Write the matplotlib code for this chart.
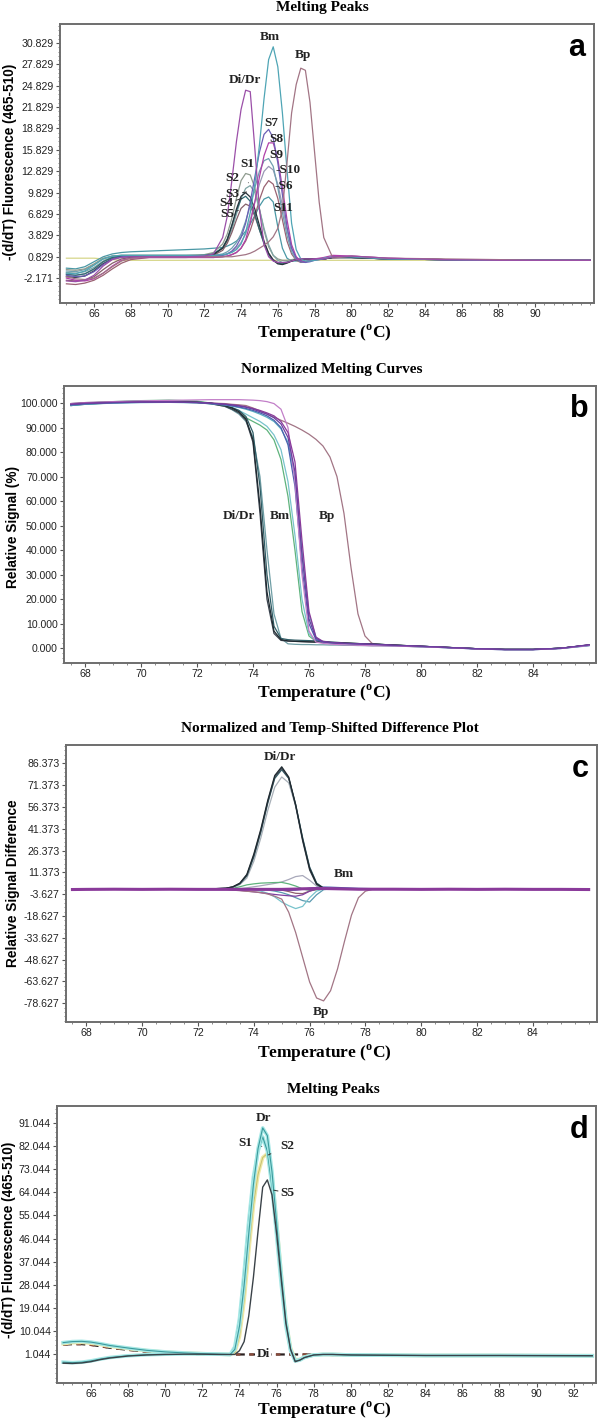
import matplotlib
matplotlib.use("Agg")
import matplotlib.pyplot as plt
from matplotlib.ticker import FixedLocator, AutoMinorLocator

SERIF = ['Liberation Serif', 'DejaVu Serif']
SANS = ['Liberation Sans', 'DejaVu Sans']

# ---------------- panel a : melting peaks ----------------
temp_a = [64.5, 65.0, 65.5, 66.0, 66.5, 67.0, 67.5, 68.0, 69.0, 70.0, 71.0, 72.0,
          72.5, 73.0, 73.25, 73.5, 73.75, 74.0, 74.25, 74.5, 74.75, 75.0, 75.25, 75.5,
          75.75, 76.0, 76.25, 76.5, 76.75, 77.0, 77.25, 77.5, 77.75, 78.0, 78.25, 78.5,
          79.0, 80.0, 82.0, 85.0, 88.0, 90.0, 93.0]

a_yellow = [0.6, 0.6, 0.6, 0.6, 0.5, 0.4, 0.3, 0.3, 0.3, 0.3, 0.3, 0.3,
            0.3, 0.3, 0.3, 0.3, 0.3, 0.3, 0.3, 0.3, 0.3, 0.3, 0.3, 0.3,
            0.3, 0.3, 0.3, 0.3, 0.3, 0.3, 0.3, 0.3, 0.3, 0.3, 0.3, 0.3,
            0.3, 0.3, 0.3, 0.3, 0.3, 0.3, 0.3]
a_s11 = [-0.8, -0.9, -0.6, 0.1, 0.8, 1.2, 1.4, 1.5, 1.6, 1.7, 1.8, 1.9,
         2.0, 2.1, 2.3, 2.6, 3.0, 3.6, 4.4, 5.4, 6.6, 7.9, 8.9, 9.2,
         8.5, 5.0, 2.0, 0.6, 0.2, 0.2, 0.3, 0.4, 0.5, 0.5, 0.5, 0.5,
         0.7, 0.7, 0.5, 0.4, 0.3, 0.3, 0.3]
a_s6 = [-3.0, -3.1, -2.9, -2.5, -1.8, -0.9, -0.1, 0.4, 0.7, 0.7, 0.7, 0.7,
        0.7, 0.8, 0.9, 1.1, 1.4, 2.0, 3.0, 4.5, 6.5, 8.8, 10.6, 11.5,
        11.0, 9.0, 6.0, 3.0, 1.2, 0.3, 0.0, 0.1, 0.3, 0.4, 0.5, 0.5,
        0.7, 0.7, 0.5, 0.4, 0.3, 0.3, 0.3]
a_s10 = [-1.6, -1.8, -1.6, -1.0, -0.1, 0.6, 0.8, 0.9, 0.9, 0.9, 0.9, 0.9,
         0.9, 1.0, 1.2, 1.5, 2.0, 2.8, 4.0, 6.0, 8.5, 11.0, 12.8, 13.5,
         13.0, 11.0, 8.0, 4.5, 2.0, 0.7, 0.2, 0.1, 0.3, 0.4, 0.5, 0.5,
         0.7, 0.7, 0.5, 0.4, 0.3, 0.3, 0.3]
a_s9 = [-1.2, -1.3, -1.0, -0.3, 0.5, 0.9, 1.0, 1.0, 1.0, 1.0, 1.0, 1.0,
        1.0, 1.2, 1.5, 2.0, 2.8, 4.0, 5.8, 8.0, 10.5, 12.8, 14.3, 14.6,
        13.5, 10.5, 7.0, 3.8, 1.5, 0.4, 0.1, 0.1, 0.3, 0.4, 0.5, 0.5,
        0.7, 0.7, 0.5, 0.4, 0.3, 0.3, 0.3]
a_s8 = [-2.2, -2.5, -2.6, -2.3, -1.5, -0.5, 0.3, 0.6, 0.7, 0.7, 0.7, 0.7,
        0.7, 0.8, 0.9, 1.1, 1.4, 2.0, 3.2, 5.5, 8.5, 12.0, 15.0, 16.8,
        16.8, 14.5, 10.5, 6.0, 2.5, 0.8, 0.2, 0.1, 0.3, 0.5, 0.6, 0.7,
        1.0, 0.9, 0.6, 0.4, 0.3, 0.3, 0.3]
a_s7 = [-1.8, -2.0, -1.9, -1.3, -0.3, 0.5, 0.8, 0.9, 0.9, 0.9, 0.9, 0.9,
        0.9, 1.0, 1.2, 1.6, 2.3, 3.5, 5.5, 8.5, 12.0, 15.5, 18.0, 18.7,
        17.5, 14.0, 9.5, 5.0, 2.0, 0.6, 0.1, 0.0, 0.1, 0.3, 0.4, 0.5,
        0.8, 0.8, 0.5, 0.4, 0.3, 0.3, 0.3]
a_s1 = [-1.0, -1.1, -0.9, -0.2, 0.6, 0.9, 1.0, 1.0, 1.0, 1.0, 1.0, 1.1,
        1.4, 2.6, 4.0, 6.2, 9.0, 11.5, 12.5, 12.3, 10.5, 7.5, 4.5, 2.2,
        1.0, 0.5, 0.3, 0.3, 0.4, 0.5, 0.5, 0.5, 0.5, 0.5, 0.5, 0.5,
        0.7, 0.7, 0.5, 0.4, 0.3, 0.3, 0.3]
a_s2 = [-1.4, -1.5, -1.3, -0.7, 0.2, 0.8, 0.9, 0.9, 0.9, 0.9, 0.9, 1.0,
        1.2, 2.0, 3.0, 4.6, 6.8, 9.0, 10.4, 10.8, 9.8, 7.5, 4.8, 2.5,
        1.0, 0.3, 0.0, 0.1, 0.3, 0.4, 0.5, 0.5, 0.5, 0.5, 0.5, 0.5,
        0.7, 0.7, 0.5, 0.4, 0.3, 0.3, 0.3]
a_s3 = [-2.0, -2.1, -1.9, -1.2, -0.2, 0.5, 0.8, 0.8, 0.8, 0.8, 0.8, 0.9,
        1.1, 2.0, 3.2, 5.2, 7.5, 9.3, 9.8, 9.2, 7.5, 5.2, 3.0, 1.3,
        0.3, -0.2, -0.3, -0.1, 0.2, 0.4, 0.4, 0.5, 0.5, 0.5, 0.5, 0.5,
        0.7, 0.7, 0.5, 0.4, 0.3, 0.3, 0.3]
a_s4 = [-1.7, -1.8, -1.6, -0.9, 0.1, 0.7, 0.9, 0.9, 0.9, 0.9, 0.9, 1.0,
        1.2, 2.1, 3.3, 5.2, 7.3, 8.9, 9.3, 8.6, 6.8, 4.6, 2.6, 1.1,
        0.3, -0.1, -0.2, 0.0, 0.2, 0.4, 0.4, 0.5, 0.5, 0.5, 0.5, 0.5,
        0.7, 0.7, 0.5, 0.4, 0.3, 0.3, 0.3]
a_s5 = [-2.5, -2.6, -2.5, -2.0, -1.0, -0.1, 0.5, 0.7, 0.7, 0.7, 0.7, 0.8,
        1.0, 1.7, 2.7, 4.2, 6.0, 7.6, 8.2, 7.9, 6.5, 4.6, 2.8, 1.3,
        0.4, 0.0, -0.1, 0.0, 0.2, 0.4, 0.4, 0.5, 0.5, 0.5, 0.5, 0.5,
        0.7, 0.7, 0.5, 0.4, 0.3, 0.3, 0.3]
a_bm = [-1.5, -1.6, -1.2, -0.4, 0.5, 0.9, 1.0, 1.0, 1.0, 1.0, 1.0, 1.0,
        1.0, 1.1, 1.2, 1.4, 1.8, 2.6, 4.2, 7.0, 11.0, 16.5, 23.0, 28.5,
        30.3, 27.5, 21.0, 13.0, 5.5, 1.8, 0.5, 0.2, 0.2, 0.3, 0.4, 0.6,
        0.8, 0.8, 0.5, 0.4, 0.3, 0.3, 0.3]
a_bp = [-2.0, -2.3, -2.4, -2.2, -1.5, -0.6, 0.2, 0.6, 0.8, 0.8, 0.8, 0.8,
        0.8, 0.8, 0.8, 0.8, 0.9, 1.0, 1.1, 1.3, 1.6, 2.0, 2.4, 2.9,
        3.6, 4.8, 7.5, 14.0, 21.0, 25.0, 27.3, 27.0, 22.5, 15.5, 8.5, 3.5,
        0.6, 0.9, 0.6, 0.5, 0.4, 0.3, 0.3]
a_didr = [-2.6, -2.7, -2.5, -1.8, -0.5, 0.4, 0.7, 0.8, 0.8, 0.8, 0.8, 0.9,
          1.2, 3.5, 6.5, 11.5, 17.0, 21.5, 24.2, 24.0, 16.0, 7.5, 2.5, 0.8,
          0.2, 0.0, 0.0, 0.0, 0.2, 0.4, 0.5, 0.5, 0.5, 0.5, 0.5, 0.5,
          0.8, 0.9, 0.6, 0.4, 0.3, 0.3, 0.3]

curves_a = [(a_yellow, '#d6d68a'), (a_s11, '#4a98a5'), (a_s6, '#9a6272'),
            (a_s10, '#9a98b5'), (a_s9, '#6f9fb0'), (a_s1, '#8f9b8f'),
            (a_s2, '#7fa5a5'), (a_s5, '#85606a'), (a_s4, '#2f6a72'),
            (a_s3, '#28343c'), (a_s8, '#b040a8'), (a_s7, '#6b5fb5'),
            (a_bm, '#4fa5b5'), (a_bp, '#a27585'), (a_didr, '#9b4fa8')]
labels_a = [('Bm', 75.58, 31.7), ('Bp', 77.39, 29.1), ('Di/Dr', 74.22, 25.7),
            ('S7', 75.62, 19.6), ('S8', 75.94, 17.4), ('S9', 75.94, 15.1),
            ('-S10', 76.55, 13.0), ('-S6', 76.3, 10.7), ('S11', 76.3, 7.6),
            ('S1', 74.36, 13.9)]
leaders_a = [('S2', 73.5, 11.8, 74.4, 11.2), ('S3', 73.55, 9.6, 74.3, 9.9),
             ('S4', 73.2, 8.3, 74.05, 9.0), ('S5', 73.25, 6.8, 73.85, 7.3)]
yt_a = [-2.171, 0.829, 3.829, 6.829, 9.829, 12.829, 15.829, 18.829, 21.829, 24.829, 27.829, 30.829]
xt_a = [66, 68, 70, 72, 74, 76, 78, 80, 82, 84, 86, 88, 90]

# ---------------- panels b, c : normalized curves / difference ----------------
temp_b = [67.5, 68.0, 69.0, 70.0, 71.0, 72.0, 72.5, 73.0,
          73.25, 73.5, 73.75, 74.0, 74.25, 74.5, 74.75, 75.0, 75.25, 75.5, 75.75,
          76.0, 76.25, 76.5, 76.75, 77.0, 77.25, 77.5, 77.75, 78.0, 78.25, 78.5,
          79.0, 80.0, 81.0, 82.0, 83.0, 84.0, 85.0, 86.0]

b_di1 = [99.3, 99.8, 100.3, 100.6, 100.6, 100.4, 100.0, 99.0,
         98.0, 96.5, 93.5, 85.0, 58.0, 23.0, 7.0, 3.5, 3.0, 2.8, 2.7,
         2.6, 2.5, 2.4, 2.3, 2.2, 2.1, 2.0, 1.9, 1.8, 1.7, 1.6,
         1.3, 0.8, 0.3, -0.2, -0.5, -0.5, 0.0, 1.3]
b_di2 = [99.0, 99.5, 100.1, 100.4, 100.5, 100.3, 99.9, 99.0,
         98.2, 97.0, 94.5, 88.0, 66.0, 30.0, 9.0, 4.0, 3.5, 3.3, 3.2,
         3.1, 3.0, 2.8, 2.6, 2.4, 2.2, 2.0, 1.9, 1.8, 1.7, 1.6,
         1.3, 0.8, 0.3, -0.2, -0.5, -0.5, 0.0, 1.3]
b_di3 = [99.6, 100.0, 100.5, 100.8, 100.7, 100.4, 99.8, 98.6,
         97.3, 95.5, 92.5, 86.0, 70.0, 40.0, 14.0, 4.0, 1.8, 1.6, 1.5,
         1.5, 1.4, 1.4, 1.3, 1.3, 1.2, 1.2, 1.1, 1.1, 1.0, 1.0,
         0.9, 0.6, 0.2, -0.2, -0.5, -0.5, 0.0, 1.2]
b_di4 = [99.8, 100.2, 100.4, 100.5, 100.5, 100.2, 99.7, 98.7,
         97.5, 96.0, 93.0, 84.0, 55.0, 20.0, 6.0, 3.2, 2.9, 2.8, 2.7,
         2.6, 2.5, 2.4, 2.3, 2.2, 2.1, 2.0, 1.9, 1.8, 1.7, 1.6,
         1.3, 0.8, 0.3, -0.2, -0.5, -0.5, 0.0, 1.3]
b_green = [99.5, 100.0, 100.6, 101.0, 101.2, 100.8, 100.0, 98.8,
           97.5, 96.0, 94.0, 92.5, 91.0, 89.0, 85.0, 77.0, 62.0, 40.0, 15.0,
           5.0, 2.8, 2.4, 2.2, 2.0, 1.9, 1.8, 1.7, 1.6, 1.5, 1.4,
           1.2, 0.8, 0.3, -0.2, -0.5, -0.5, 0.0, 1.2]
b_teal = [99.0, 99.6, 100.2, 100.6, 100.8, 100.5, 99.8, 99.0,
          98.0, 97.0, 95.5, 94.0, 92.5, 90.5, 87.0, 81.0, 68.0, 46.0, 20.0,
          6.0, 3.0, 2.5, 2.3, 2.1, 2.0, 1.9, 1.8, 1.7, 1.6, 1.5,
          1.2, 0.8, 0.3, -0.2, -0.5, -0.5, 0.0, 1.2]
b_bm1 = [99.4, 99.8, 100.2, 100.4, 100.4, 100.2, 99.9, 99.5,
         99.2, 98.8, 98.3, 97.5, 96.5, 95.5, 94.0, 91.5, 86.0, 72.0, 38.0,
         12.0, 4.0, 2.6, 2.3, 2.1, 2.0, 1.9, 1.8, 1.7, 1.6, 1.5,
         1.2, 0.8, 0.3, -0.2, -0.5, -0.5, 0.0, 1.4]
b_bm2 = [99.6, 100.0, 100.3, 100.5, 100.5, 100.3, 100.0, 99.6,
         99.3, 99.0, 98.5, 97.8, 97.0, 96.0, 94.8, 92.5, 88.0, 76.0, 44.0,
         15.0, 4.5, 2.8, 2.4, 2.2, 2.0, 1.9, 1.8, 1.7, 1.6, 1.5,
         1.2, 0.8, 0.3, -0.2, -0.5, -0.5, 0.0, 1.4]
b_bm3 = [99.2, 99.7, 100.1, 100.3, 100.4, 100.2, 99.8, 99.3,
         98.9, 98.4, 97.8, 97.0, 96.0, 94.8, 93.0, 90.0, 83.0, 66.0, 33.0,
         10.0, 3.5, 2.5, 2.2, 2.0, 1.9, 1.8, 1.7, 1.6, 1.5, 1.4,
         1.1, 0.7, 0.2, -0.3, -0.6, -0.6, -0.1, 1.2]
b_bm4 = [99.0, 99.5, 100.0, 100.2, 100.3, 100.1, 99.7, 99.2,
         98.7, 98.2, 97.5, 96.6, 95.5, 94.2, 92.5, 89.5, 84.0, 70.0, 40.0,
         14.0, 4.5, 2.4, 2.0, 1.8, 1.7, 1.6, 1.5, 1.4, 1.3, 1.2,
         1.0, 0.6, 0.2, -0.3, -0.6, -0.6, -0.1, 1.0]
b_pink = [99.8, 100.2, 100.6, 100.9, 101.1, 101.3, 101.4, 101.4,
          101.4, 101.4, 101.3, 101.2, 101.0, 100.6, 99.8, 97.5, 90.0, 68.0, 30.0,
          7.0, 2.5, 2.0, 1.7, 1.5, 1.4, 1.3, 1.2, 1.1, 1.0, 1.0,
          0.9, 0.6, 0.2, -0.3, -0.6, -0.6, -0.1, 1.1]
b_bp = [99.5, 100.0, 100.3, 100.5, 100.5, 100.3, 100.0, 99.8,
        99.5, 99.3, 99.0, 98.0, 96.8, 95.5, 94.3, 93.0, 91.8, 90.5, 89.0,
        87.3, 85.2, 82.5, 78.0, 70.0, 55.0, 33.0, 14.0, 5.0, 2.0, 1.4,
        1.0, 0.6, 0.3, -0.2, -0.5, -0.5, 0.0, 1.2]

curves_b = [(b_bp, '#a27585'), (b_green, '#5fb37c'), (b_teal, '#78c3cc'),
            (b_di3, '#6f9ea5'), (b_di2, '#2f5d66'), (b_di4, '#3c4450'),
            (b_di1, '#1f2a30'), (b_bm4, '#5aafc0'), (b_bm3, '#4a5fae'),
            (b_pink, '#c27fc8'), (b_bm2, '#8a3a9a'), (b_bm1, '#6a3fa0')]
labels_b = [('Di/Dr', 73.5, 54.0), ('Bm', 74.95, 54.0), ('Bp', 76.65, 54.0)]
yt_b = [0, 10, 20, 30, 40, 50, 60, 70, 80, 90, 100]

c_di1 = [0.0, 0.0, 0.0, 0.0, 0.0, 0.0, 0.1, 0.5,
         1.5, 4.0, 10.0, 24.0, 41.0, 61.0, 78.0, 84.0, 77.0, 58.0, 34.0,
         14.0, 3.5, 0.5, 0.0, 0.0, 0.0, 0.0, 0.0, 0.0, 0.0, 0.0,
         0.0, 0.0, 0.0, 0.0, 0.0, 0.0, 0.0, 0.0]
c_di2 = [0.0, 0.0, 0.0, 0.0, 0.0, 0.0, 0.1, 0.4,
         1.3, 3.5, 9.0, 22.0, 39.0, 59.0, 76.0, 82.0, 76.0, 58.0, 35.0,
         15.0, 4.0, 0.6, 0.0, 0.0, 0.0, 0.0, 0.0, 0.0, 0.0, 0.0,
         0.0, 0.0, 0.0, 0.0, 0.0, 0.0, 0.0, 0.0]
c_di3 = [0.0, 0.0, 0.0, 0.0, 0.0, 0.0, 0.1, 0.3,
         1.0, 3.0, 7.5, 19.0, 35.0, 54.0, 70.0, 77.0, 73.0, 57.0, 35.0,
         15.0, 4.0, 0.6, 0.0, 0.0, 0.0, 0.0, 0.0, 0.0, 0.0, 0.0,
         0.0, 0.0, 0.0, 0.0, 0.0, 0.0, 0.0, 0.0]
c_di4 = [0.0, 0.0, 0.0, 0.0, 0.0, 0.0, 0.1, 0.5,
         1.4, 3.8, 9.5, 23.0, 40.0, 60.0, 77.0, 83.0, 76.5, 57.0, 33.0,
         13.0, 3.0, 0.4, 0.0, 0.0, 0.0, 0.0, 0.0, 0.0, 0.0, 0.0,
         0.0, 0.0, 0.0, 0.0, 0.0, 0.0, 0.0, 0.0]
c_gray = [0.0, 0.0, 0.0, 0.0, 0.0, 0.0, 0.0, 0.0,
          0.0, 0.3, 0.8, 1.5, 2.2, 3.0, 3.8, 4.8, 6.5, 8.5, 9.2,
          6.0, 2.0, 0.3, 0.0, 0.0, 0.0, 0.0, 0.0, 0.0, 0.0, 0.0,
          0.0, 0.0, 0.0, 0.0, 0.0, 0.0, 0.0, 0.0]
c_green = [0.0, 0.0, 0.0, 0.0, 0.0, 0.0, 0.0, 0.2,
           0.5, 1.5, 2.8, 3.5, 4.0, 4.2, 4.4, 4.5, 3.5, 2.0, 0.0,
           -1.0, -0.5, 0.0, 0.0, 0.0, 0.0, 0.0, 0.0, 0.0, 0.0, 0.0,
           0.0, 0.0, 0.0, 0.0, 0.0, 0.0, 0.0, 0.0]
c_teal1 = [0.0, 0.0, 0.0, 0.0, 0.0, 0.0, 0.0, 0.0,
           0.0, 0.0, 0.0, 0.0, -0.3, -0.8, -1.5, -2.5, -4.0, -6.0, -8.0,
           -9.0, -4.0, -0.5, 0.0, 0.0, 0.0, 0.0, 0.0, 0.0, 0.0, 0.0,
           0.0, 0.0, 0.0, 0.0, 0.0, 0.0, 0.0, 0.0]
c_teal2 = [0.0, 0.0, 0.0, 0.0, 0.0, 0.0, 0.0, 0.0,
           0.0, 0.0, 0.0, -0.5, -1.5, -3.0, -5.5, -9.0, -11.5, -13.5, -12.0,
           -6.0, -1.5, 0.0, 0.0, 0.0, 0.0, 0.0, 0.0, 0.0, 0.0, 0.0,
           0.0, 0.0, 0.0, 0.0, 0.0, 0.0, 0.0, 0.0]
c_brown = [0.0, 0.0, 0.0, 0.0, 0.0, 0.0, 0.0, 0.0,
           0.0, 0.0, 0.0, 0.0, 0.0, 0.0, -0.3, -0.8, -1.8, -3.0, -3.2,
           -1.5, -0.3, 0.0, 0.0, 0.0, 0.0, 0.0, 0.0, 0.0, 0.0, 0.0,
           0.0, 0.0, 0.0, 0.0, 0.0, 0.0, 0.0, 0.0]
c_violet = [0.0, 0.0, 0.0, 0.0, 0.0, 0.0, 0.0, -0.2,
            -0.5, -1.0, -1.5, -2.0, -2.6, -3.2, -3.8, -4.3, -4.7, -5.0, -4.0,
            -1.5, 0.0, 0.0, 0.0, 0.0, 0.0, 0.0, 0.0, 0.0, 0.0, 0.0,
            0.0, 0.0, 0.0, 0.0, 0.0, 0.0, 0.0, 0.0]
c_blue = [0.2, 0.1, 0.2, 0.1, 0.2, 0.1, 0.1, 0.1,
          0.1, 0.1, 0.0, 0.0, 0.0, -0.2, -0.5, -0.8, -1.0, -0.8, -0.2,
          0.5, 1.0, 1.3, 1.2, 1.0, 0.8, 0.6, 0.4, 0.3, 0.2, 0.2,
          0.2, 0.2, 0.2, 0.2, 0.2, 0.2, 0.2, 0.2]
c_purple = [-0.4, -0.3, -0.2, -0.3, -0.2, -0.3, -0.3, -0.3,
            -0.3, -0.3, -0.3, -0.3, -0.3, -0.3, -0.3, -0.3, -0.2, -0.1, 0.1,
            0.2, 0.3, 0.3, 0.2, 0.1, 0.0, -0.1, -0.2, -0.2, -0.2, -0.2,
            -0.2, -0.3, -0.2, -0.3, -0.2, -0.3, -0.3, -0.4]
c_bp = [0.0, 0.0, 0.0, 0.0, 0.0, 0.0, -0.1, -0.3,
        -0.8, -1.2, -1.6, -2.0, -2.5, -3.5, -5.0, -7.0, -16.0, -30.0, -47.0,
        -64.0, -75.0, -77.0, -70.0, -55.0, -36.0, -18.0, -6.0, -1.5, -0.3, 0.0,
        0.0, 0.0, 0.0, 0.0, 0.0, 0.0, 0.0, 0.0]

curves_c = [(c_gray, '#a8a8ba'), (c_green, '#5fb37c'), (c_teal1, '#5a9ab0'),
            (c_teal2, '#78c3cc'), (c_brown, '#8f6070'), (c_violet, '#8040a0'),
            (c_blue, '#4a5fae'), (c_bp, '#a27585'), (c_di3, '#a8b0b8'),
            (c_di2, '#2f5d66'), (c_di4, '#3c4450'), (c_di1, '#1f2a30')]
labels_c = [('Di/Dr', 74.93, 90.9), ('Bm', 77.22, 10.1), ('Bp', 76.42, -84.3)]
yt_c = [-78.627, -63.627, -48.627, -33.627, -18.627, -3.627, 11.373, 26.373, 41.373, 56.373, 71.373, 86.373]
xt_bc = [68, 70, 72, 74, 76, 78, 80, 82, 84]

# ---------------- panel d : melting peaks ----------------
temp_d = [64.5, 65.0, 65.5, 66.0, 66.5, 67.0, 68.0, 69.0, 70.0, 71.0, 72.0, 73.0,
          73.5, 73.75, 74.0, 74.25, 74.5, 74.75, 75.0, 75.25, 75.5, 75.75, 76.0,
          76.25, 76.5, 76.75, 77.0, 77.25, 77.5,
          78.0, 78.5, 79.0, 80.0, 84.0, 88.0, 93.0]

d_dr = [5.6, 6.0, 6.1, 5.8, 5.2, 4.5, 3.5, 2.6, 2.0, 1.6, 1.3, 1.1,
        1.0, 3.0, 12.0, 28.0, 48.0, 67.0, 81.0, 89.0, 86.0, 72.0, 52.0,
        32.0, 14.0, 3.0, -1.5, -1.2, -0.2,
        0.8, 1.0, 1.0, 0.8, 0.6, 0.6, 0.5]
d_s1 = [-2.0, -2.2, -2.0, -1.5, -0.8, -0.2, 0.5, 0.9, 1.1, 1.2, 1.2, 1.1,
        1.0, 4.0, 15.0, 33.0, 53.0, 70.0, 80.0, 85.5, 80.0, 66.0, 47.0,
        28.0, 12.0, 2.5, -1.5, -1.0, 0.0,
        0.8, 1.0, 1.0, 0.8, 0.6, 0.6, 0.5]
d_s2 = [5.2, 5.6, 5.7, 5.4, 4.9, 4.2, 3.3, 2.5, 1.9, 1.5, 1.3, 1.1,
        1.0, 1.8, 8.0, 22.0, 41.0, 59.0, 71.0, 77.5, 79.0, 70.0, 52.0,
        32.0, 14.0, 3.5, -1.0, -1.0, 0.0,
        0.8, 1.0, 1.0, 0.8, 0.6, 0.6, 0.5]
d_s5 = [-2.4, -2.5, -2.3, -1.8, -1.0, -0.4, 0.4, 0.8, 1.0, 1.1, 1.1, 1.0,
        1.0, 1.0, 2.5, 6.0, 16.0, 31.0, 49.0, 66.0, 68.8, 63.0, 48.0,
        30.0, 13.0, 3.0, -1.8, -1.2, -0.2,
        0.8, 1.0, 1.0, 0.8, 0.6, 0.6, 0.5]
d_di = [4.8, 5.0, 5.0, 4.7, 4.2, 3.6, 2.8, 2.1, 1.6, 1.3, 1.1, 1.0,
        1.0, 1.0, 1.0, 1.0, 1.0, 1.0, 1.0, 1.0, 1.0, 1.0, 1.0,
        1.0, 1.0, 1.0, 1.0, 1.0, 1.0,
        0.9, 0.9, 0.8, 0.8, 0.7, 0.7, 0.6]
labels_d = [('Dr', 75.31, 92.8)]
leaders_d = [('S1', 74.3, 83.0, 75.2, 81.8), ('S2', 76.55, 82.0, 75.55, 78.5),
             ('S5', 76.6, 63.8, 75.85, 64.8)]
yt_d = [1.044, 10.044, 19.044, 28.044, 37.044, 46.044, 55.044, 64.044, 73.044, 82.044, 91.044]
xt_d = [66, 68, 70, 72, 74, 76, 78, 80, 82, 84, 86, 88, 90, 92]

W, H = 598, 1422


def fig_text(x, y, s, **kw):
    fig.text(x / W, 1 - y / H, s, ha='center', va='center', **kw)


def style_axes(ax, xlim, ylim, xticks, yticks, letter, title, ylabel,
               title_xy, xlabel_y, ylabel_xy):
    ax.set_xlim(*xlim)
    ax.set_ylim(*ylim)
    ax.xaxis.set_major_locator(FixedLocator(xticks))
    ax.yaxis.set_major_locator(FixedLocator(yticks))
    ax.set_xticklabels([str(t) for t in xticks], family=SANS, fontsize=7.6)
    ax.set_yticklabels(['%.3f' % t for t in yticks], family=SANS, fontsize=7.6)
    ax.yaxis.set_minor_locator(AutoMinorLocator(5))
    ax.xaxis.set_minor_locator(AutoMinorLocator(4))
    ax.tick_params(which='major', direction='out', length=3, width=0.8,
                   color='#555555', pad=1.5, labelcolor='#222222')
    ax.tick_params(which='minor', direction='out', length=1.5, width=0.6, color='#777777')
    for sp in ax.spines.values():
        sp.set_color('#6e6e6e')
        sp.set_linewidth(1.4)
    ax.text(0.968, 0.915, letter, transform=ax.transAxes, ha='center', va='center',
            fontsize=22, fontweight='bold', family=SANS)
    fig_text(title_xy[0], title_xy[1], title, family=SERIF, fontweight='bold', fontsize=11)
    fig_text(324, xlabel_y, 'Temperature ($^{\\mathregular{o}}$C)', family=SERIF,
             fontweight='bold', fontsize=12.5)
    fig_text(ylabel_xy[0], ylabel_xy[1], ylabel, family=SANS, fontweight='bold',
             fontsize=9.8, rotation=90)


def add_text(ax, items):
    for txt, x, y in items:
        ax.text(x, y, txt, ha='center', va='center', family=SERIF,
                fontweight='bold', fontsize=9.5, color='#222222')


def add_leaders(ax, items):
    for txt, x, y, px, py in items:
        ax.annotate(txt, xy=(px, py), xytext=(x, y), ha='center', va='center',
                    family=SERIF, fontweight='bold', fontsize=9.5, color='#222222',
                    arrowprops=dict(arrowstyle='-', color='#333333', lw=0.7,
                                    shrinkA=5, shrinkB=0))


fig = plt.figure(figsize=(5.98, 14.22), dpi=100)
ax_a = fig.add_axes([0.1003, 0.7869, 0.893, 0.1962])
ax_b = fig.add_axes([0.1070, 0.5338, 0.8896, 0.1948])
ax_c = fig.add_axes([0.1104, 0.2813, 0.8880, 0.1948])
ax_d = fig.add_axes([0.0953, 0.0274, 0.9013, 0.1948])

# a
for ys, col in curves_a:
    ax_a.plot(temp_a, ys, color=col, lw=0.9)
add_text(ax_a, labels_a)
add_leaders(ax_a, leaders_a)
style_axes(ax_a, (64.15, 93.2), (-5.7, 33.5), xt_a, yt_a, 'a',
           'Melting Peaks', '-(d/dT) Fluorescence (465-510)',
           (322, 8), 333, (10, 162))

# b
for ys, col in curves_b:
    ax_b.plot(temp_b, ys, color=col, lw=0.9)
add_text(ax_b, labels_b)
style_axes(ax_b, (67.25, 86.25), (-6.0, 107.0), xt_bc, yt_b, 'b',
           'Normalized Melting Curves', 'Relative Signal (%)',
           (332, 370), 693, (13, 527))

# c
for ys, col in curves_c:
    ax_c.plot(temp_b, ys, color=col, lw=0.9)
ax_c.plot(temp_b, c_purple, color='#8a3a9a', lw=2.2)
add_text(ax_c, labels_c)
style_axes(ax_c, (67.27, 86.3), (-91.5, 99.0), xt_bc, yt_c, 'c',
           'Normalized and Temp-Shifted Difference Plot', 'Relative Signal Difference',
           (330, 729), 1053, (13, 883))

# d
ax_d.plot(temp_d, d_di, color='#2a2020', lw=1.6, dashes=(4, 2))
ax_d.plot(temp_d, d_di, color='#8a4a3a', lw=1.6, dashes=(2, 4), dash_capstyle='butt')
for ys in (d_s2,):
    ax_d.plot(temp_d, ys, color='#efe9a8', lw=2.6)
    ax_d.plot(temp_d, ys, color='#c8c070', lw=0.7)
for ys in (d_s1, d_dr):
    ax_d.plot(temp_d, ys, color='#a6e8e6', lw=2.6)
    ax_d.plot(temp_d, ys, color='#3b9a9c', lw=0.8)
ax_d.plot(temp_d, d_s5, color='#3a4248', lw=1.0)
add_text(ax_d, labels_d)
add_leaders(ax_d, leaders_d)
ax_d.text(75.27, 1.0, 'Di', ha='center', va='center', family=SERIF, fontweight='bold',
          fontsize=9.5, color='#222222',
          bbox=dict(facecolor='white', edgecolor='none', pad=1.0))
style_axes(ax_d, (64.17, 93.2), (-10.1, 97.5), xt_d, yt_d, 'd',
           'Melting Peaks', '-(d/dT) Fluorescence (465-510)',
           (333, 1090), 1410, (9, 1240))

fig.savefig('out.png', dpi=100)
